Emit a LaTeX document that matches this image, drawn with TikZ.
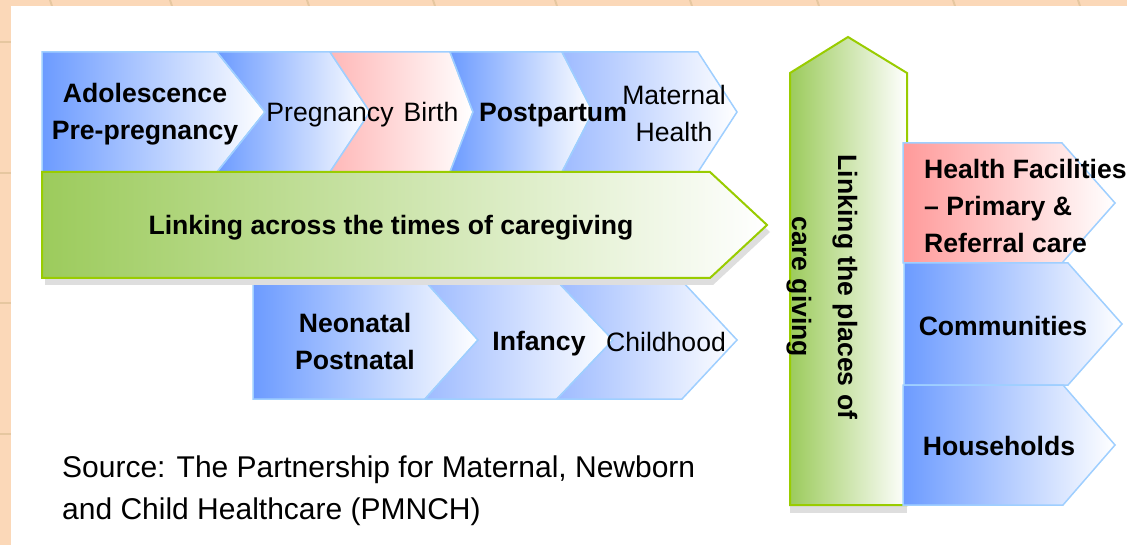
\documentclass[tikz,border=0pt]{standalone}
\usepackage{fontspec}
\setmainfont{Liberation Sans}
\newfontfamily\srcfont{Liberation Sans}

\definecolor{peach}{HTML}{FBD8B8}
\definecolor{gridtan}{HTML}{E6C7A0}
\definecolor{chevblue}{HTML}{6C9BFF}
\definecolor{chevblueL}{HTML}{9EBBFF}
\definecolor{chevpink}{HTML}{FF9A9A}
\definecolor{chevpinkL}{HTML}{FFB8B8}
\definecolor{chevedge}{HTML}{9FCFFF}
\definecolor{arrgreen}{HTML}{9CCB5C}
\definecolor{arredge}{HTML}{99CC00}

\tikzstyle{bluechev}=[draw=chevedge,line width=1.5pt,left color=chevblue,right color=white]
\tikzstyle{lightchev}=[draw=chevedge,line width=1.5pt,left color=chevblueL,right color=white]
\tikzstyle{pinkchev}=[draw=chevedge,line width=1.5pt,left color=chevpink,right color=white]
\tikzstyle{birthchev}=[draw=chevedge,line width=1.5pt,left color=chevpinkL,right color=white]
\tikzstyle{greenarrow}=[draw=arredge,line width=2pt,left color=arrgreen,right color=white]
\tikzstyle{arrshadow}=[fill=black!13]
\tikzstyle{lbl}=[font=\fontsize{26.6}{37}\selectfont,align=center,inner sep=0pt]
\tikzstyle{boldlbl}=[lbl,font=\fontsize{26.6}{37}\selectfont\bfseries]

\begin{document}
\begin{tikzpicture}[x=1pt,y=-1pt]

   \useasboundingbox (0,0) rectangle (1127,545);

   % Background

   \fill[peach] (0,0) rectangle (1127,545);
   \foreach \gx in {50,170,307,433,555,690,817,953,1078}
      \draw[gridtan,line width=2pt] (\gx,0) -- (\gx+2,6);
   \foreach \gy in {42,173,303,434}
      \draw[gridtan,line width=2pt] (0,\gy) -- (11,\gy);
   \fill[white] (11,6) rectangle (1127,545);

   % Times of caregiving, top row

   \filldraw[bluechev] (42,52) coordinate(adoltl) -- (217,52) -- (265,112)
-- (217,172) -- (42,172) coordinate(adolbl) -- cycle;
   \filldraw[bluechev] (217,52) -- (330,52) -- (370,112) -- (330,172)
-- (217,172) -- (265,112) -- cycle;
   \filldraw[birthchev] (330,52) -- (450,52) -- (473,112) -- (450,172)
-- (330,172) -- (370,112) -- cycle;
   \filldraw[bluechev] (450,52) -- (562,52) -- (593,112) -- (562,172)
-- (450,172) -- (473,112) -- cycle;
   \filldraw[lightchev] (562,52) -- (698,52) -- (737,112) -- (698,172)
-- (562,172) -- (593,112) -- cycle;

   \node[boldlbl] (adol) at (145,114) {Adolescence\\Pre-pregnancy};
   \node[lbl,anchor=base] (preg) at (330,122) {Pregnancy};
   \node[lbl,anchor=base] (birth) at (431,122) {Birth};
   \node[boldlbl,anchor=base] (post) at (553,122) {Postpartum};
   \node[lbl] (mat) at (674,113) {Maternal\\Health};

   % Times of caregiving, bottom row

   \filldraw[bluechev] (253,281) coordinate(neotl) -- (425,281) -- (478,340)
-- (425,399) -- (253,399) coordinate(neobl) -- cycle;
   \filldraw[lightchev] (425,281) -- (557,281) -- (613,340) -- (557,399)
-- (425,399) -- (478,340) -- cycle;
   \filldraw[lightchev] (557,281) -- (682,281) -- (737,340) -- (682,399)
-- (557,399) -- (613,340) -- cycle;

   \node[boldlbl] (neo) at (355,341) {Neonatal\\Postnatal};
   \node[boldlbl,anchor=base] (inf) at (539,350) {Infancy};
   \node[lbl,anchor=base] (child) at (666,351) {Childhood};

   % Linking across the times

   \fill[arrshadow,shift={(3,7)}] (42,172) -- (710,172) -- (767,225)
-- (710,278) -- (42,278) -- cycle;
   \filldraw[greenarrow] (42,172) coordinate(timetl) -- (710,172) -- (767,225)
coordinate(timetip) -- (710,278) -- (42,278) coordinate(timebl) -- cycle;

   \node[boldlbl,anchor=base] (times) at (391,235) {Linking across the times of caregiving};

   % Linking the places

   \fill[arrshadow,shift={(0,8)}] (790,497) rectangle (907,505);
   \filldraw[greenarrow] (790,505) coordinate(placebl) -- (790,73) -- (848,37)
coordinate(placetip) -- (907,73) -- (907,505) coordinate(placebr) -- cycle;

   \node[boldlbl,rotate=-90,font=\fontsize{26.6}{46}\selectfont\bfseries] (places)
at (822,287) {Linking the places of\\care giving};

   % Places of caregiving

   \filldraw[pinkchev] (903,143) -- (1062,143) -- (1115,203) -- (1062,263)
-- (903,263) -- cycle;
   \filldraw[bluechev] (904,263) -- (1068,263) -- (1122,324) -- (1068,385)
-- (904,385) -- cycle;
   \filldraw[bluechev] (903,385) -- (1063,385) -- (1115,445) -- (1063,505)
-- (903,505) -- cycle;

   \node[boldlbl,align=left,anchor=west] (hf) at (924,206)
{Health Facilities\\-- Primary \&\\Referral care};
   \node[boldlbl,anchor=base] (com) at (1003,335) {Communities};
   \node[boldlbl,anchor=base] (hh) at (999,455) {Households};

   % Source

   \node[lbl,align=left,anchor=west,font=\fontsize{30}{42}\srcfont] (src) at (62,491)
{Source: The Partnership for Maternal, Newborn\\and Child Healthcare (PMNCH)};

\end{tikzpicture}
\end{document}
